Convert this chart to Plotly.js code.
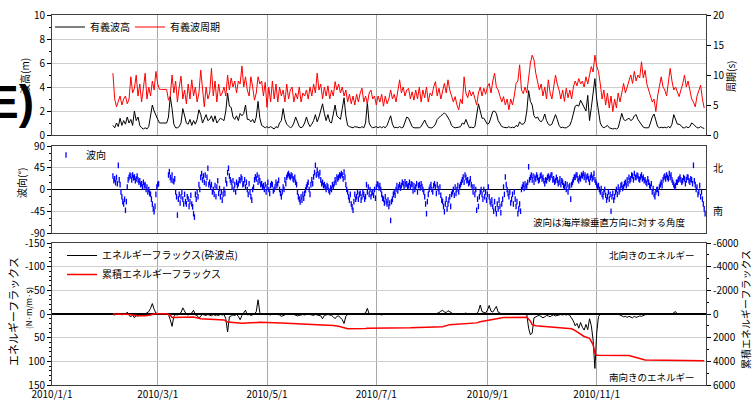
<!DOCTYPE html>
<html>
<head>
<meta charset="utf-8">
<script src="https://cdn.plot.ly/plotly-3.0.1.min.js"></script>
<style>
  html, body { margin: 0; padding: 0; background: #fff; }
  #chart { width: 754px; height: 401px; }
</style>
</head>
<body>
<div id="chart"></div>
<script>
// Daily series run from 4 Feb 2010 to 31 Dec 2010.
const seriesStart = '2010-02-04';

// Significant wave height (m), one value per day
const waveHeight = [
  0.8,0.6,1.0,0.7,1.4,0.8,1.2,0.9,1.5,1.0,
  1.3,0.8,2.0,1.2,1.5,0.8,0.6,0.5,0.6,0.5,
  0.7,1.5,2.5,2.0,1.6,1.3,1.0,1.0,1.0,1.0,
  1.0,1.5,3.2,2.2,0.9,0.6,0.6,0.7,1.0,2.2,
  1.6,1.0,0.9,1.3,0.8,1.2,0.9,1.3,2.1,1.7,
  1.0,1.4,1.7,1.2,1.3,1.6,1.1,1.6,1.0,1.2,
  1.4,1.3,1.2,2.0,3.5,2.4,2.3,1.5,1.3,1.6,
  1.2,1.8,1.6,1.8,2.5,1.3,1.3,1.1,1.3,1.0,
  1.5,2.8,1.4,0.8,0.7,0.6,0.7,0.6,0.7,0.6,
  0.5,0.7,0.6,1.0,1.2,2.2,1.3,0.9,0.7,0.6,
  0.7,1.0,1.5,1.0,0.7,0.6,0.7,1.0,1.5,1.0,
  0.7,0.9,1.2,1.7,1.1,1.5,2.0,2.6,1.8,1.2,
  1.7,1.1,1.0,1.7,2.5,1.6,1.4,1.3,2.2,3.1,
  1.6,0.8,0.7,0.65,0.6,0.7,0.65,0.6,0.6,0.7,
  0.6,1.0,2.7,1.0,0.7,0.6,0.65,0.7,0.6,0.7,
  0.6,0.7,0.6,0.8,1.2,1.6,0.9,0.6,0.65,0.6,
  0.7,0.6,0.65,1.0,1.5,1.4,1.0,0.7,0.6,0.6,
  0.65,0.6,0.7,1.0,1.25,0.9,0.65,0.6,0.6,0.7,
  0.9,1.3,1.5,1.6,1.7,1.85,1.7,1.5,1.2,0.8,
  0.65,0.6,0.6,0.65,0.7,1.0,0.9,1.3,0.9,0.6,
  0.65,0.6,0.7,1.5,2.6,2.0,1.4,1.4,1.1,0.9,
  1.0,1.6,1.95,2.0,1.8,1.2,0.9,0.7,0.65,0.6,
  0.6,0.7,0.6,0.65,0.6,0.8,0.7,1.1,0.9,0.9,
  1.1,2.0,3.7,2.8,2.5,1.6,1.4,1.5,1.2,1.1,
  1.3,1.75,1.2,0.9,0.8,0.9,1.3,1.7,1.3,0.8,
  0.6,0.65,0.6,0.6,0.7,0.8,1.2,1.7,2.4,2.5,
  2.4,2.9,2.6,2.4,2.0,3.3,1.2,2.3,3.5,4.7,
  3.0,2.0,1.0,0.7,0.6,0.7,0.8,0.6,0.55,0.5,
  0.55,0.5,0.6,1.2,1.8,1.3,1.2,1.3,1.4,1.2,
  1.3,1.6,1.7,1.3,1.1,0.9,0.65,0.6,0.6,0.6,
  1.0,1.5,1.75,1.1,0.7,0.6,0.65,0.6,0.65,0.6,
  0.7,0.6,0.9,1.7,1.2,0.9,0.9,0.8,0.6,0.6,
  0.7,0.6,0.7,1.0,0.9,0.7,0.6,0.6,0.7,0.6,
  0.55
];

// Significant wave period (s), one value per day
const wavePeriod = [
  10.3,6.0,4.7,5.5,6.5,5.0,6.0,6.5,5.2,6.0,
  9.7,7.0,7.8,10.0,6.5,8.5,5.5,7.8,10.3,6.0,
  8.0,6.5,9.0,7.5,10.6,8.5,7.6,7.6,7.6,7.6,
  7.6,5.8,6.5,10.0,7.0,9.0,5.5,8.0,9.8,6.0,
  7.5,5.2,8.5,6.0,9.2,6.5,8.0,5.5,7.0,10.8,
  7.5,4.7,8.0,6.0,7.0,11.1,6.5,9.0,5.5,8.5,
  6.5,7.0,8.0,6.5,10.0,7.5,9.5,8.0,9.0,7.0,
  9.0,8.5,11.5,8.0,9.7,7.5,6.5,9.7,8.0,5.8,
  7.0,9.7,8.5,9.0,6.5,8.8,4.6,8.0,5.5,9.0,
  6.0,8.5,5.5,8.0,6.5,7.5,5.5,8.5,6.0,7.5,
  8.0,5.5,7.0,6.0,8.0,5.5,7.0,6.5,7.5,6.0,
  8.0,6.5,8.5,7.0,10.3,7.5,8.5,6.0,8.0,6.5,
  8.2,6.0,7.5,6.5,8.9,7.5,8.5,7.0,8.0,6.5,
  7.5,5.5,6.8,5.2,6.5,5.0,6.8,5.5,7.0,7.8,
  5.5,6.5,5.2,7.0,7.5,6.0,6.5,5.0,6.5,5.5,
  6.8,4.8,6.5,5.2,6.0,7.5,6.0,6.8,5.5,7.5,
  9.2,7.0,8.0,6.5,7.5,7.8,6.0,7.2,5.8,7.5,
  6.0,8.0,5.5,7.5,6.2,8.0,5.5,7.0,6.5,8.0,
  8.9,6.5,7.8,6.0,7.5,8.6,7.0,9.2,7.5,6.5,
  5.5,6.4,5.0,4.2,6.0,5.2,9.7,7.0,6.2,7.5,
  6.5,7.2,6.0,5.0,7.0,8.0,6.5,7.8,6.8,8.0,
  8.6,7.0,9.0,10.3,8.0,7.5,6.5,5.5,6.4,5.0,
  6.0,4.2,6.0,5.0,6.5,8.6,9.0,11.7,7.5,6.9,
  8.0,7.0,9.5,12.0,13.3,12.5,10.3,9.0,7.5,8.5,
  6.5,8.0,6.0,9.2,7.0,6.0,8.0,10.0,8.5,7.5,
  6.0,7.5,5.6,7.8,6.2,7.5,6.0,8.0,9.0,8.2,
  9.4,8.5,9.0,8.0,9.7,8.5,10.0,11.4,10.5,13.3,
  11.5,10.6,8.5,6.0,7.5,5.0,7.0,4.5,6.5,3.9,
  6.0,4.5,7.0,5.5,7.0,8.6,7.0,8.0,9.0,10.0,
  8.6,10.6,9.0,10.0,9.5,12.2,9.5,10.8,8.5,7.5,
  6.9,5.5,6.0,3.9,6.5,8.0,9.7,8.0,7.5,6.5,
  8.5,11.1,9.0,7.5,8.0,7.0,6.4,7.5,8.5,10.0,
  8.0,9.0,7.5,6.0,5.5,4.7,6.5,7.5,8.3,6.0,
  4.5
];

// Wave direction relative to the shore normal (deg), readings at 00h and 12h; null = no data
const waveDirection = [
  28,18, 22,14, 25,12, 50,20, 10,-5, -15,-25, -30,-20, -43,-25, 5,20, 25,30,
  28,20, 30,24, 26,18, 22,28, 20,15, 18,10, 12,5, 15,8, 10,0, 5,-5,
  0,-8, -10,-20, -30,-40, -46,-35, -10,5, 10,12, null,null, null,null, null,null, null,null,
  null,null, 30,37, 25,20, 30,18, 16,22, -5,-15, -53,-20, -10,-28, -15,-5, -20,-30,
  -10,-25, -30,-15, -20,-35, -25,-12, -30,-36, -50,-57, -10,-20, -5,-15, 10,0, 25,33,
  20,28, 15,30, 12,25, 44,10, 15,5, 10,-5, 0,-10, 8,-15, 5,18, -8,2,
  -15,-5, -22,-10, 0,-8, 20,12, 35,44, 28,20, 15,5, 18,0, 10,-5, 15,8,
  12,20, 18,26, 22,10, 12,20, 5,15, 0,-10, 12,-5, -15,-22, 0,5, 20,26,
  22,30, 15,25, 18,10, 12,5, 8,0, 10,-5, 5,15, 0,-8, 8,12, 10,-3,
  0,5, 15,8, 12,19, 0,-8, -15,-5, 5,0, 20,12, 25,30, 33,28, 25,30,
  28,22, 20,25, 15,10, -5,-15, -20,-26, -15,-22, -10,-18, -8,-1, 5,10, 15,0,
  -10,10, 20,12, 26,35, 50,30, 40,32, 28,35, 20,12, 15,8, 10,5, 0,8,
  5,-2, -5,3, 0,10, 5,12, 20,15, 26,22, 25,30, 28,33, 30,22, 36,25,
  10,0, -5,-15, -22,-10, -30,-36, -43,-25, -10,-20, -15,-5, -20,-10, -8,-22, -15,-5,
  -10,-20, -15,10, -5,5, -10,0, -15,-8, -5,-12, 0,-18, 5,12, 10,3, 8,0,
  -10,-18, -20,-28, -15,-25, -30,-22, -35,-28, -64,-25, -20,-10, -5,-12, 0,8, -3,5,
  10,3, 8,15, 12,5, 16,10, 12,5, 8,15, 5,12, 10,-3, 8,0, 5,12,
  -5,8, 10,3, 12,6, 0,-5, -15,-30, -50,-25, -10,0, 5,10, 0,-5, 8,12,
  5,-8, 10,2, -5,5, -12,-22, -25,-35, -46,-30, -20,-40, -30,-22, -15,-35, -10,-5,
  0,-12, 5,-8, 0,8, -5,5, 10,15, 20,26, 15,30, 25,18, 20,12, 15,22,
  10,5, -5,5, -10,0, -43,-20, -35,-15, -5,0, -10,-20, 0,-15, -5,-22, -10,5,
  -15,-25, -30,-22, -35,-45, -25,-40, -50,-30, -40,-22, -35,-48, -30,-20, 5,-10, 26,10,
  0,-8, -15,-5, -28,-20, -10,-30, -5,-20, -35,-25, -50,-40, -30,-45, 0,5, 10,2,
  12,5, 8,15, 47,20, 25,30, 20,28, 15,25, 22,30, 25,18, 20,28, 30,22,
  25,18, 12,20, 18,25, 28,22, 25,30, 30,20, 22,15, 18,25, 20,12, 15,22,
  10,18, 15,8, 5,12, 0,10, -5,5, 8,-20, 10,15, 20,26, 25,30, 30,22,
  18,25, 22,30, 28,33, 25,30, 20,26, 28,22, 15,25, 30,22, 25,33, 20,15,
  10,5, 8,0, -5,2, -10,-15, -5,0, -12,-22, -15,-5, -20,-10, -45,-15, -8,-22,
  -15,-5, 0,-10, 5,-5, 0,8, 10,2, 5,12, 15,8, 20,12, 25,18, 22,30,
  28,20, 33,25, 25,30, 28,22, 20,26, 30,22, 25,18, 20,15, 12,22, 15,8,
  5,12, -5,2, -10,-15, -5,0, 0,-8, 5,10, 15,8, 20,25, 28,22, 30,25,
  22,33, 25,30, 20,15, 10,5, 8,15, 15,20, 22,26, 20,15, 18,25, 22,12,
  20,26, 25,18, 15,22, 20,12, 50,18, 10,0, 5,-10, -5,8, -15,-5, -20,-30,
  -40,-50
];

// Energy flux at the breaker point (N·m/m·s), daily; positive = southward
const energyFlux = [
  1,2,0,1,-1,2,0,1,-4,3,
  6,2,8,3,5,1,0,1,0,-2,
  -5,-12,-22,-10,-2,0,0,0,0,0,
  0,1,12,26,5,1,2,0,-3,-13,
  -4,1,2,0,-2,-8,2,3,10,4,
  1,2,3,1,2,4,1,3,2,3,
  1,2,1,10,38,6,4,2,3,1,
  5,12,3,-3,-8,2,1,3,1,0,
  -5,-30,-3,1,0,1,0,1,2,0,
  1,0,1,2,5,3,1,0,1,0,
  0,1,2,4,3,2,1,2,1,0,
  1,2,3,1,2,3,4,10,3,2,
  1,2,3,6,10,5,4,8,12,20,
  5,1,0,1,0,1,0,0,1,0,
  -1,-2,-12,0,1,0,1,0,0,1,
  2,1,1,2,1,1,0,0,1,0,
  -1,0,0,1,0,0,0,0,1,0,
  0,0,0,0,1,0,0,-1,0,0,
  0,-1,-3,-6,-8,-4,-3,-7,-5,-2,
  0,0,1,0,0,0,-1,-2,0,0,
  0,0,0,-1,-6,-19,-5,-3,-2,-8,
  -18,-6,-4,-10,-16,-4,-1,0,0,0,
  0,1,0,0,0,1,1,1,0,0,
  0,2,30,44,40,8,5,4,3,5,
  8,6,3,4,6,3,2,4,3,2,
  1,2,1,2,1,3,8,15,25,20,
  30,18,28,34,22,33,10,25,55,115,
  40,5,1,0,0,0,1,0,0,0,
  0,0,1,2,4,6,5,7,5,6,
  8,5,7,6,4,5,3,2,0,0,
  1,0,0,1,0,0,0,1,0,0,
  0,0,0,-3,-5,0,0,0,0,0,
  0,0,0,0,0,0,0,0,0,0,
  0
];

// Cumulative energy flux, read at its turning points
const cumulativeDates = [
  '2010-02-04','2010-02-12','2010-02-18','2010-02-22','2010-02-25','2010-02-27','2010-03-06',
  '2010-03-08','2010-03-09','2010-03-14','2010-03-16','2010-03-21','2010-03-25','2010-04-07',
  '2010-04-09','2010-04-17','2010-04-25','2010-04-27','2010-05-09','2010-05-31','2010-06-07',
  '2010-06-10','2010-06-13','2010-06-15','2010-06-25','2010-06-26','2010-07-20','2010-08-05',
  '2010-08-07','2010-08-11','2010-08-26','2010-08-28','2010-09-02','2010-09-07','2010-09-10',
  '2010-09-23','2010-09-25','2010-09-26','2010-09-28','2010-10-18','2010-10-20','2010-10-25',
  '2010-10-28','2010-10-30','2010-10-31','2010-11-01','2010-11-19','2010-11-28','2010-12-31'
];
const cumulativeFlux = [
  0,20,140,150,80,-20,-20,
  100,300,320,270,260,400,500,
  680,790,760,700,770,910,970,
  1040,1200,1250,1230,1200,1170,1130,
  1080,900,750,650,500,350,290,
  280,600,900,1000,1250,1400,1900,
  2050,2600,3300,3480,3500,3880,3950
];

// Axis ticks
const monthTicks = ['2010-01-01','2010-03-01','2010-05-01','2010-07-01','2010-09-01','2010-11-01'];
const monthTickText = ['2010/1/1','2010/3/1','2010/5/1','2010/7/1','2010/9/1','2010/11/1'];
const heightTicks = [0, 2, 4, 6, 8, 10];
const periodTicks = [0, 5, 10, 15, 20];
const directionTicks = [-90, -45, 0, 45, 90];
const directionTickText = ['-90', '-45', '0', '45', '90'];
const fluxTicks = [-150, -100, -50, 0, 50, 100, 150];
const fluxTickText = ['-150', '-100', '-50', '0', '50', '100', '150'];
const cumulativeTicks = [-6000, -4000, -2000, 0, 2000, 4000, 6000];
const cumulativeTickText = ['-6000', '-4000', '-2000', '0', '2000', '4000', '6000'];

function dateSeries(start, count, stepHours) {
  const t0 = Date.parse(start + 'T00:00:00Z');
  const out = [];
  for (let i = 0; i < count; i++) {
    out.push(new Date(t0 + i * stepHours * 3600000).toISOString().slice(0, 16).replace('T', ' '));
  }
  return out;
}

const dailyDates = dateSeries(seriesStart, waveHeight.length, 24);
const halfDayDates = dateSeries(seriesStart, waveDirection.length, 12);

const JP = '"Noto Sans CJK JP", sans-serif';
const NUM = '"Liberation Sans Narrow", "Noto Sans CJK JP", sans-serif';
const tickFont = { family: NUM, size: 10, color: '#000' };
const frameColor = '#404040';
const gridH = '#cfcfcf';
const gridV = '#a8a8a8';

const traces = [
  { x: dailyDates, y: waveHeight, name: '有義波高', type: 'scatter', mode: 'lines', showlegend: true,
    line: { color: '#000', width: 1 }, xaxis: 'x', yaxis: 'y', legend: 'legend' },
  { x: dailyDates, y: wavePeriod, name: '有義波周期', type: 'scatter', mode: 'lines', showlegend: true,
    line: { color: '#ff0000', width: 1 }, xaxis: 'x', yaxis: 'y4', legend: 'legend4' },
  { x: halfDayDates, y: waveDirection, name: '波向', type: 'scatter', mode: 'markers', showlegend: true,
    marker: { color: '#0000ff', size: 4, symbol: 'line-ns', line: { color: '#0000ff', width: 1.3 } },
    xaxis: 'x2', yaxis: 'y2', legend: 'legend2' },
  { x: dailyDates, y: energyFlux, name: 'エネルギーフラックス(砕波点)', type: 'scatter', mode: 'lines', showlegend: true,
    line: { color: '#000', width: 1 }, xaxis: 'x3', yaxis: 'y3', legend: 'legend3' },
  { x: cumulativeDates, y: cumulativeFlux, name: '累積エネルギーフラックス', type: 'scatter', mode: 'lines', showlegend: true,
    line: { color: '#ff0000', width: 1.5 }, xaxis: 'x3', yaxis: 'y5', legend: 'legend3' }
];

function timeAxis(anchor, labels) {
  return {
    anchor: anchor, type: 'date', range: ['2010-01-01', '2011-01-01'],
    tickmode: 'array', tickvals: monthTicks, ticktext: monthTickText,
    showticklabels: labels, ticks: '', tickfont: tickFont,
    showgrid: true, gridcolor: gridV, gridwidth: 1,
    showline: true, mirror: true, linecolor: frameColor, linewidth: 1, zeroline: false
  };
}

function valueAxis(opts) {
  return Object.assign({
    tickmode: 'array', ticks: 'outside', ticklen: 4, tickcolor: '#000', tickfont: tickFont,
    showgrid: true, gridcolor: gridH, gridwidth: 1, zeroline: false,
    showline: true, linecolor: frameColor, linewidth: 1, fixedrange: true
  }, opts);
}

const px = v => (v - 52) / 654;      // horizontal page pixel -> paper fraction
const py = v => (385 - v) / 370;     // vertical page pixel -> paper fraction

const note = (text, x, y, size, extra) => Object.assign({
  text: text, xref: 'paper', yref: 'paper', x: px(x), y: py(y), showarrow: false,
  xanchor: 'center', yanchor: 'middle',
  font: { family: JP, size: size, color: '#000' }
}, extra || {});

const legendBox = (x, y) => ({
  visible: true, x: px(x), xanchor: 'left', y: py(y), yanchor: 'middle',
  bgcolor: 'rgba(0,0,0,0)', font: { family: JP, size: 10 }, tracegroupgap: 0
});

const layout = {
  width: 754, height: 401,
  margin: { l: 52, r: 48, t: 15, b: 16, pad: 0, autoexpand: false },
  paper_bgcolor: '#fff', plot_bgcolor: '#fff',
  font: { family: JP, size: 10, color: '#000' },
  showlegend: true,
  xaxis: timeAxis('y', false),
  xaxis2: timeAxis('y2', false),
  xaxis3: timeAxis('y3', true),
  yaxis: valueAxis({ domain: [py(135), 1], range: [0, 10], tickvals: heightTicks, anchor: 'x',
    minor: { ticks: 'outside', ticklen: 2, dtick: 1, tickcolor: '#000' } }),
  yaxis4: valueAxis({ overlaying: 'y', side: 'right', anchor: 'x', range: [0, 20], tickvals: periodTicks,
    showgrid: false }),
  yaxis2: valueAxis({ domain: [py(233), py(146)], range: [-90, 90], anchor: 'x2',
    tickvals: directionTicks, ticktext: directionTickText, mirror: true,
    zeroline: true, zerolinecolor: '#000', zerolinewidth: 1.5,
    minor: { ticks: 'outside', ticklen: 2, dtick: 15, tickcolor: '#000' } }),
  yaxis3: valueAxis({ domain: [0, py(243)], range: [150, -150], anchor: 'x3',
    tickvals: fluxTicks, ticktext: fluxTickText,
    zeroline: true, zerolinecolor: '#000', zerolinewidth: 1.5,
    minor: { ticks: 'outside', ticklen: 2, dtick: 10, tickcolor: '#000' } }),
  yaxis5: valueAxis({ overlaying: 'y3', side: 'right', anchor: 'x3', range: [6000, -6000],
    tickvals: cumulativeTicks, ticktext: cumulativeTickText, showgrid: false,
    minor: { ticks: 'outside', ticklen: 2, dtick: 1000, tickcolor: '#000' } }),
  legend: legendBox(50, 27),
  legend4: legendBox(130, 27),
  legend2: legendBox(46, 155),
  legend3: legendBox(62, 265),
  annotations: [
    note('<b>E)</b>', 36, 102, 46, { xanchor: 'right',
      font: { family: '"Liberation Sans", Arial, sans-serif', size: 46, color: '#000' } }),
    note('波高(m)', 24, 76, 10, { textangle: -90 }),
    note('周期(s)', 731, 77, 10, { textangle: -90 }),
    note('波向(°)', 21, 183, 10, { textangle: -90 }),
    note('エネルギーフラックス', 13, 312, 11, { textangle: -90 }),
    note('(N·m/m·s)', 28, 308, 8, { textangle: -90 }),
    note('累積エネルギーフラックス', 745, 310, 10, { textangle: -90 }),
    note('北', 718, 167, 10),
    note('南', 718, 211, 10),
    note('波向は海岸線垂直方向に対する角度', 688, 222, 9.5, { xanchor: 'right' }),
    note('北向きのエネルギー', 697, 255, 9.5, { xanchor: 'right' }),
    note('南向きのエネルギー', 697, 377, 9.5, { xanchor: 'right' })
  ]
};

Plotly.newPlot('chart', traces, layout, { displayModeBar: false, staticPlot: true });
</script>
</body>
</html>
